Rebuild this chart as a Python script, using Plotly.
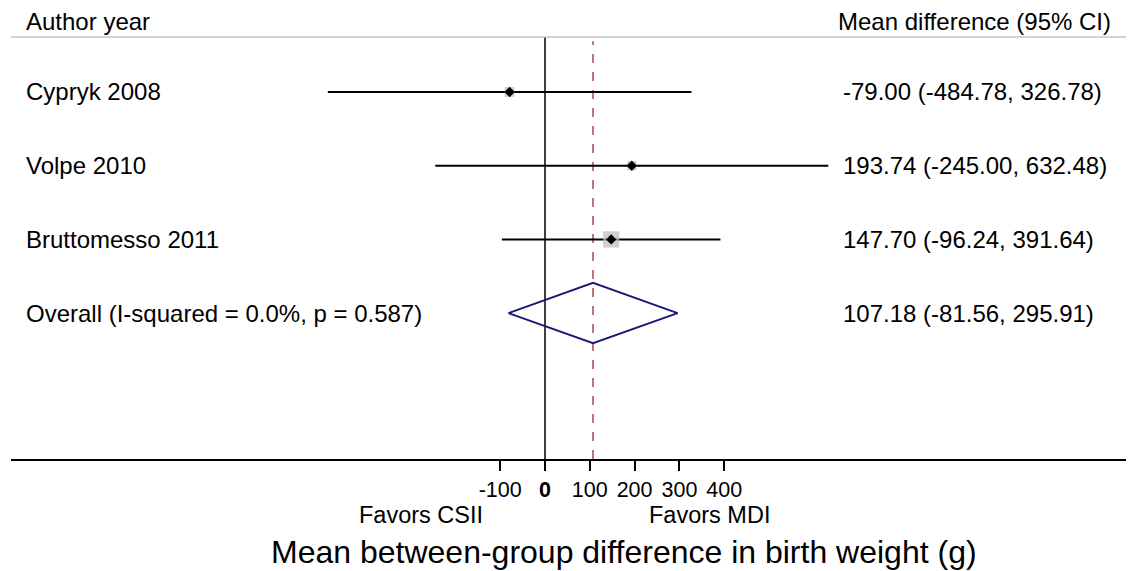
import plotly.graph_objects as go

# ---- data ----
studies = ["Cypryk 2008", "Volpe 2010", "Bruttomesso 2011"]
md = [-79.00, 193.74, 147.70]
ci_lo = [-484.78, -245.00, -96.24]
ci_hi = [326.78, 632.48, 391.64]
weights = [21.6, 18.5, 59.9]
ci_text = ["-79.00 (-484.78, 326.78)", "193.74 (-245.00, 632.48)", "147.70 (-96.24, 391.64)"]

overall_label = "Overall (I-squared = 0.0%, p = 0.587)"
overall_md = 107.18
overall_lo = -81.56
overall_hi = 295.91
overall_text = "107.18 (-81.56, 295.91)"

tick_vals = [-100, 0, 100, 200, 300, 400]
tick_text = ["-100", "<b>0</b>", "100", "200", "300", "400"]

# ---- layout geometry (page pixels; page body has 8px margin) ----
OFF = 8
W, H = 1134 - OFF, 571 - OFF
L, R = 11 - OFF, 0
T = 37 - OFF
B = H - (459 - OFF)
FONT = "Liberation Sans, Arial, sans-serif"
FS = 24

def px_x(px):
    return (px - OFF - L) / (W - L - R)

def px_y(py):
    return (H - B - (py - OFF)) / (H - B - T)

rows = list(range(1, len(studies) + 1))
overall_row = len(studies) + 1

fig = go.Figure()

# CI lines
for i in range(len(studies)):
    fig.add_trace(go.Scatter(x=[ci_lo[i], ci_hi[i]], y=[rows[i], rows[i]], mode="lines",
                             line=dict(color="black", width=2), hoverinfo="skip", showlegend=False))

# weight squares
fig.add_trace(go.Scatter(x=md, y=rows, mode="markers",
                         marker=dict(symbol="square", color="#bcbcbc",
                                     size=[2.1 * w ** 0.5 for w in weights], line=dict(width=0)),
                         showlegend=False, hoverinfo="skip"))
# point estimates
fig.add_trace(go.Scatter(x=md, y=rows, mode="markers",
                         marker=dict(symbol="diamond", color="black", size=8),
                         showlegend=False, hoverinfo="skip"))

# overall diamond
h = 0.41
fig.add_trace(go.Scatter(
    x=[overall_lo, overall_md, overall_hi, overall_md, overall_lo],
    y=[overall_row, overall_row - h, overall_row, overall_row + h, overall_row],
    mode="lines", line=dict(color="#1a1a72", width=2), showlegend=False, hoverinfo="skip"))

shapes = [
    dict(type="line", xref="x", yref="paper", x0=0, x1=0, y0=0, y1=1,
         line=dict(color="black", width=1.5), layer="below"),
    dict(type="line", xref="x", yref="paper", x0=overall_md, x1=overall_md, y0=0, y1=0.99,
         line=dict(color="#a8474c", width=1.5, dash="dash"), layer="below"),
    dict(type="line", xref="paper", yref="paper", x0=0, x1=1, y0=1, y1=1,
         line=dict(color="#c4c4c4", width=1.5)),
]

ann = []
def add_text(text, x, y, yref="paper", xanchor="left", size=FS):
    ann.append(dict(text=text, x=x, y=y, xref="paper", yref=yref, xanchor=xanchor,
                    yanchor="middle", showarrow=False, font=dict(size=size)))

add_text("Author year", px_x(24), px_y(22))
add_text("Mean difference (95% CI)", px_x(1113), px_y(22), xanchor="right")
for i in range(len(studies)):
    add_text(studies[i], px_x(24), rows[i], yref="y")
    add_text(ci_text[i], px_x(841), rows[i], yref="y")
add_text(overall_label, px_x(24), overall_row, yref="y")
add_text(overall_text, px_x(841), overall_row, yref="y")
add_text("Favors CSII", px_x(421), px_y(515), xanchor="center", size=23.5)
add_text("Favors MDI", px_x(709), px_y(515), xanchor="center", size=23.5)
add_text("Mean between-group difference in birth weight (g)", px_x(624), px_y(552),
         xanchor="center", size=32)

scale = 0.448  # px per unit
zero_px = 545 - OFF
fig.update_layout(
    width=W, height=H,
    margin=dict(l=L, r=R, t=T, b=B, pad=0),
    paper_bgcolor="white", plot_bgcolor="white",
    font=dict(family=FONT, color="black", size=FS),
    xaxis=dict(range=[(L - zero_px) / scale, (W - R - zero_px) / scale],
               tickvals=tick_vals, ticktext=tick_text, ticks="outside", ticklen=10,
               tickwidth=1.5, tickcolor="black", showline=True, linecolor="black", linewidth=2,
               showgrid=False, zeroline=False, tickfont=dict(size=21.5)),
    yaxis=dict(range=[5.98, 0.254], visible=False, showgrid=False, zeroline=False),
    shapes=shapes, annotations=ann, showlegend=False,
)

fig.write_html("out.html")
